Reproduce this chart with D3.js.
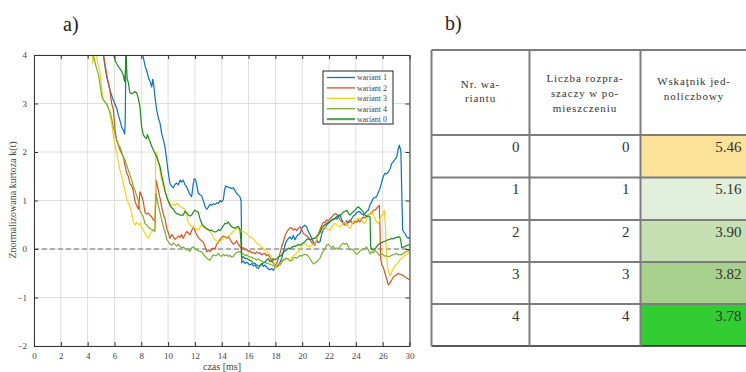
<!DOCTYPE html>
<html>
<head>
<meta charset="utf-8">
<script src="https://cdnjs.cloudflare.com/ajax/libs/d3/7.8.5/d3.min.js"></script>
<style>
  html, body { margin: 0; padding: 0; background: #fff; }
  svg { display: block; }
  svg text { font-family: "Liberation Serif", "Times New Roman", "DejaVu Serif", serif; }
</style>
</head>
<body>
<svg id="fig" width="746" height="372"></svg>
<script>
// ---- panel a): normalised kurtosis k(t) per variant, [t, k] samples ----
const wariant1 = [[5.15,4.05],[5.3,3.75],[5.45,3.52],[5.6,3.35],[5.75,3.2],[5.91,3.07],[6.05,2.98],[6.17,2.9],[6.3,2.75],[6.41,2.65],[6.55,2.5],[6.66,2.45],[6.76,2.37],[6.8,2.6],[6.83,3.3],[6.86,4.2],[7.4,4.6],[8.05,4.1],[8.15,3.95],[8.3,3.75],[8.4,3.68],[8.55,3.52],[8.65,3.46],[8.78,3.34],[8.85,3.5],[8.92,3.4],[9.02,3.13],[9.15,2.86],[9.28,2.7],[9.4,2.59],[9.52,2.38],[9.65,2.25],[9.77,2.1],[9.9,1.83],[10.0,1.6],[10.08,1.45],[10.14,1.35],[10.25,1.3],[10.39,1.26],[10.5,1.33],[10.64,1.36],[10.75,1.32],[10.89,1.42],[11.0,1.38],[11.13,1.42],[11.25,1.33],[11.39,1.28],[11.5,1.2],[11.63,1.12],[11.76,1.08],[11.85,1.3],[11.95,1.45],[12.05,1.43],[12.15,1.3],[12.25,1.15],[12.38,1.12],[12.5,1.1],[12.62,1.0],[12.75,0.88],[12.88,0.82],[13.0,0.86],[13.12,0.92],[13.25,0.9],[13.37,0.93],[13.5,0.92],[13.62,0.95],[13.75,0.94],[13.87,1.0],[14.0,0.97],[14.12,1.02],[14.2,1.2],[14.28,1.3],[14.4,1.28],[14.55,1.27],[14.7,1.25],[14.86,1.26],[15.0,1.2],[15.1,1.15],[15.24,1.11],[15.35,1.08],[15.44,1.0],[15.47,0.4],[15.49,-0.28],[15.6,-0.25],[15.75,-0.3],[15.86,-0.27],[15.98,-0.3],[16.1,-0.33],[16.25,-0.3],[16.35,-0.35],[16.48,-0.33],[16.6,-0.38],[16.73,-0.4],[16.85,-0.35],[16.98,-0.3],[17.1,-0.36],[17.23,-0.33],[17.35,-0.38],[17.47,-0.41],[17.6,-0.43],[17.72,-0.4],[17.85,-0.44],[17.97,-0.38],[18.1,-0.36],[18.22,-0.33],[18.35,-0.27],[18.47,-0.2],[18.6,-0.05],[18.72,0.08],[18.8,0.15],[18.97,0.22],[19.1,0.25],[19.22,0.2],[19.34,0.28],[19.46,0.19],[19.59,0.26],[19.72,0.3],[19.84,0.32],[19.96,0.42],[20.08,0.47],[20.2,0.49],[20.34,0.45],[20.46,0.36],[20.58,0.3],[20.71,0.22],[20.83,0.14],[20.95,0.12],[21.08,0.18],[21.2,0.13],[21.33,0.15],[21.45,0.3],[21.57,0.4],[21.7,0.43],[21.83,0.5],[21.95,0.53],[22.07,0.56],[22.2,0.6],[22.32,0.62],[22.45,0.63],[22.57,0.67],[22.7,0.7],[22.82,0.7],[22.95,0.6],[23.06,0.55],[23.2,0.53],[23.32,0.58],[23.44,0.55],[23.56,0.56],[23.7,0.63],[23.81,0.68],[23.94,0.7],[24.06,0.75],[24.18,0.77],[24.3,0.77],[24.44,0.72],[24.56,0.7],[24.68,0.73],[24.81,0.78],[24.93,0.8],[25.06,0.92],[25.18,0.97],[25.3,1.05],[25.43,1.06],[25.55,1.08],[25.68,1.17],[25.8,1.25],[25.93,1.38],[26.05,1.5],[26.17,1.56],[26.3,1.55],[26.42,1.59],[26.55,1.65],[26.67,1.76],[26.8,1.8],[26.92,1.85],[27.05,1.9],[27.15,2.05],[27.24,2.14],[27.3,2.08],[27.36,2.0],[27.42,1.2],[27.49,0.39],[27.58,0.35],[27.66,0.32],[27.79,0.25],[27.91,0.22],[28.0,0.25]];

const wariant2 = [[5.15,4.05],[5.3,3.8],[5.42,3.6],[5.55,3.42],[5.67,3.25],[5.79,3.0],[5.91,2.88],[6.0,2.6],[6.04,2.45],[6.17,2.24],[6.29,2.15],[6.41,2.04],[6.54,1.97],[6.66,1.9],[6.79,1.72],[6.91,1.56],[7.03,1.5],[7.16,1.35],[7.29,1.3],[7.4,1.21],[7.53,0.98],[7.65,0.9],[7.78,0.82],[7.85,1.0],[7.9,1.18],[8.03,1.1],[8.15,0.97],[8.28,0.75],[8.4,0.72],[8.52,0.74],[8.65,0.7],[8.78,0.66],[8.9,0.6],[9.02,0.58],[9.07,1.0],[9.1,1.42],[9.2,1.3],[9.27,1.21],[9.4,1.05],[9.52,0.87],[9.64,0.72],[9.77,0.62],[9.9,0.42],[10.0,0.35],[10.14,0.22],[10.27,0.3],[10.39,0.25],[10.52,0.2],[10.64,0.23],[10.76,0.27],[10.89,0.24],[11.0,0.3],[11.13,0.22],[11.26,0.3],[11.39,0.36],[11.5,0.33],[11.63,0.29],[11.76,0.38],[11.88,0.46],[12.0,0.38],[12.13,0.29],[12.25,0.24],[12.38,0.2],[12.5,0.16],[12.62,0.14],[12.75,0.05],[12.88,-0.06],[13.0,-0.02],[13.12,-0.05],[13.25,-0.02],[13.37,0.02],[13.5,0.0],[13.62,0.1],[13.75,0.14],[13.87,0.2],[14.0,0.24],[14.12,0.27],[14.24,0.25],[14.37,0.22],[14.49,0.26],[14.62,0.2],[14.74,0.14],[14.86,0.1],[15.0,0.12],[15.11,0.17],[15.24,0.1],[15.36,0.05],[15.49,0.0],[15.61,0.03],[15.73,-0.02],[15.86,-0.01],[15.98,-0.05],[16.1,-0.04],[16.23,-0.08],[16.35,-0.07],[16.48,-0.1],[16.6,-0.06],[16.73,-0.09],[16.85,-0.08],[16.98,-0.12],[17.1,-0.1],[17.23,-0.09],[17.35,-0.14],[17.47,-0.12],[17.6,-0.18],[17.72,-0.24],[17.85,-0.3],[17.97,-0.33],[18.1,-0.3],[18.22,-0.2],[18.35,-0.08],[18.47,0.05],[18.6,0.15],[18.72,0.28],[18.85,0.35],[18.97,0.4],[19.1,0.44],[19.22,0.43],[19.34,0.39],[19.46,0.42],[19.59,0.38],[19.72,0.43],[19.84,0.46],[19.96,0.4],[20.08,0.32],[20.2,0.3],[20.34,0.27],[20.46,0.24],[20.58,0.2],[20.71,0.13],[20.83,0.1],[20.95,0.08],[21.08,0.2],[21.2,0.3],[21.33,0.4],[21.45,0.48],[21.57,0.55],[21.7,0.55],[21.83,0.6],[21.95,0.58],[22.07,0.62],[22.2,0.66],[22.32,0.7],[22.45,0.73],[22.57,0.72],[22.7,0.66],[22.82,0.6],[22.95,0.56],[23.06,0.52],[23.2,0.49],[23.32,0.5],[23.44,0.56],[23.56,0.6],[23.7,0.55],[23.81,0.52],[23.94,0.57],[24.06,0.55],[24.18,0.6],[24.3,0.56],[24.44,0.62],[24.56,0.66],[24.68,0.64],[24.81,0.68],[24.93,0.7],[25.06,0.72],[25.18,0.74],[25.3,0.8],[25.43,0.8],[25.55,0.84],[25.68,0.88],[25.75,0.9],[25.8,0.4],[25.85,-0.2],[25.93,-0.33],[26.05,-0.38],[26.17,-0.5],[26.3,-0.62],[26.42,-0.74],[26.55,-0.7],[26.67,-0.64],[26.8,-0.58],[26.92,-0.55],[27.04,-0.53],[27.17,-0.5],[27.29,-0.52],[27.42,-0.53],[27.54,-0.55],[27.66,-0.57],[27.79,-0.6],[27.91,-0.62],[28.0,-0.64]];

const wariant3 = [[4.3,4.1],[4.38,3.82],[4.45,4.1],[4.6,4.05],[4.67,3.95],[4.8,3.78],[4.92,3.65],[5.05,3.3],[5.17,3.1],[5.29,3.03],[5.42,2.97],[5.54,2.93],[5.67,2.75],[5.79,2.59],[5.91,2.35],[6.04,2.15],[6.17,1.97],[6.29,1.8],[6.41,1.63],[6.54,1.5],[6.66,1.35],[6.79,1.2],[6.91,1.05],[7.03,0.95],[7.16,0.87],[7.29,0.72],[7.4,0.58],[7.53,0.49],[7.65,0.55],[7.78,0.5],[7.9,0.53],[8.03,0.45],[8.15,0.39],[8.28,0.32],[8.4,0.26],[8.52,0.22],[8.65,0.3],[8.78,0.36],[8.9,0.4],[9.02,0.43],[9.05,1.2],[9.08,2.0],[9.17,1.95],[9.27,1.8],[9.4,1.6],[9.52,1.42],[9.64,1.28],[9.77,1.18],[9.9,1.05],[10.0,1.0],[10.14,0.95],[10.27,0.9],[10.39,0.92],[10.52,0.9],[10.64,0.94],[10.76,0.92],[10.89,0.88],[11.0,0.84],[11.13,0.85],[11.26,0.8],[11.39,0.7],[11.5,0.55],[11.63,0.5],[11.76,0.46],[11.88,0.44],[12.0,0.43],[12.13,0.41],[12.25,0.39],[12.38,0.45],[12.5,0.49],[12.62,0.46],[12.75,0.43],[12.88,0.4],[13.0,0.38],[13.12,0.36],[13.25,0.3],[13.37,0.24],[13.5,0.19],[13.62,0.17],[13.75,0.16],[13.87,0.15],[14.0,0.19],[14.12,0.22],[14.24,0.24],[14.37,0.25],[14.49,0.27],[14.62,0.29],[14.74,0.33],[14.86,0.36],[14.99,0.4],[15.11,0.43],[15.24,0.41],[15.36,0.39],[15.49,0.37],[15.61,0.36],[15.73,0.34],[15.86,0.32],[15.98,0.28],[16.1,0.25],[16.23,0.23],[16.35,0.22],[16.48,0.16],[16.6,0.12],[16.73,0.1],[16.85,0.08],[16.98,0.04],[17.1,0.01],[17.23,-0.02],[17.35,-0.05],[17.47,-0.08],[17.6,-0.12],[17.72,-0.18],[17.85,-0.23],[17.97,-0.4],[18.1,-0.38],[18.22,-0.36],[18.35,-0.3],[18.47,-0.28],[18.6,-0.24],[18.72,-0.23],[18.85,-0.2],[18.97,-0.19],[19.1,-0.22],[19.22,-0.17],[19.34,-0.14],[19.46,-0.12],[19.59,-0.08],[19.72,-0.05],[19.84,-0.02],[19.96,0.06],[20.08,0.1],[20.2,0.12],[20.34,0.08],[20.46,0.05],[20.58,0.05],[20.71,0.08],[20.83,0.1],[20.95,0.12],[21.08,0.2],[21.2,0.28],[21.33,0.32],[21.45,0.4],[21.57,0.44],[21.7,0.46],[21.83,0.42],[21.95,0.4],[22.07,0.39],[22.2,0.45],[22.32,0.5],[22.45,0.53],[22.57,0.5],[22.7,0.47],[22.82,0.46],[22.95,0.5],[23.06,0.54],[23.2,0.56],[23.32,0.5],[23.44,0.45],[23.56,0.43],[23.7,0.5],[23.81,0.57],[23.94,0.6],[24.06,0.62],[24.18,0.63],[24.3,0.63],[24.44,0.58],[24.56,0.54],[24.68,0.53],[24.81,0.62],[24.93,0.7],[25.06,0.74],[25.18,0.77],[25.3,0.7],[25.43,0.63],[25.55,0.55],[25.68,0.53],[25.8,0.62],[25.93,0.7],[26.05,0.75],[26.12,0.8],[26.2,0.5],[26.3,-0.2],[26.42,-0.45],[26.55,-0.55],[26.67,-0.48],[26.8,-0.4],[26.92,-0.34],[27.04,-0.32],[27.17,-0.27],[27.29,-0.22],[27.42,-0.2],[27.54,-0.16],[27.66,-0.13],[27.79,-0.1],[27.91,-0.09],[28.0,-0.06]];

const wariant4 = [[4.4,4.05],[4.55,3.85],[4.67,3.72],[4.8,3.6],[4.92,3.4],[5.05,3.15],[5.17,3.07],[5.29,3.03],[5.42,3.0],[5.54,2.9],[5.67,2.83],[5.79,2.7],[5.91,2.52],[6.04,2.38],[6.17,2.24],[6.29,2.15],[6.41,2.1],[6.54,2.0],[6.66,1.9],[6.79,1.83],[6.91,1.72],[7.03,1.63],[7.16,1.52],[7.29,1.42],[7.4,1.3],[7.53,1.21],[7.65,1.1],[7.78,1.0],[7.9,0.8],[8.03,0.72],[8.15,0.66],[8.28,0.52],[8.4,0.5],[8.52,0.45],[8.65,0.43],[8.78,0.4],[8.9,0.38],[9.02,0.36],[9.06,0.8],[9.1,1.15],[9.17,1.05],[9.27,0.9],[9.4,0.75],[9.52,0.6],[9.64,0.46],[9.77,0.35],[9.9,0.2],[10.0,0.16],[10.14,0.1],[10.27,0.08],[10.39,0.12],[10.52,0.1],[10.64,0.06],[10.76,0.1],[10.89,0.05],[11.0,0.03],[11.13,0.04],[11.26,0.01],[11.39,-0.02],[11.5,-0.01],[11.63,-0.05],[11.76,0.02],[11.88,0.05],[12.0,0.0],[12.13,-0.02],[12.25,-0.03],[12.38,-0.05],[12.5,-0.06],[12.62,-0.1],[12.75,-0.15],[12.88,-0.19],[13.0,-0.21],[13.12,-0.23],[13.25,-0.17],[13.37,-0.12],[13.5,-0.14],[13.62,-0.13],[13.75,-0.09],[13.87,-0.14],[14.0,-0.15],[14.12,-0.11],[14.24,-0.14],[14.37,-0.12],[14.49,-0.15],[14.62,-0.13],[14.74,-0.17],[14.86,-0.16],[14.99,-0.1],[15.11,-0.07],[15.24,-0.06],[15.36,-0.05],[15.49,-0.09],[15.61,-0.1],[15.73,-0.13],[15.86,-0.12],[15.98,-0.15],[16.1,-0.17],[16.23,-0.16],[16.35,-0.19],[16.48,-0.2],[16.6,-0.22],[16.73,-0.21],[16.85,-0.23],[16.98,-0.25],[17.1,-0.27],[17.23,-0.28],[17.35,-0.29],[17.47,-0.3],[17.6,-0.32],[17.72,-0.33],[17.85,-0.34],[17.97,-0.36],[18.1,-0.36],[18.22,-0.34],[18.35,-0.33],[18.47,-0.26],[18.6,-0.22],[18.72,-0.2],[18.85,-0.19],[18.97,-0.22],[19.1,-0.25],[19.22,-0.24],[19.34,-0.18],[19.46,-0.17],[19.59,-0.19],[19.72,-0.16],[19.84,-0.13],[19.96,-0.15],[20.08,-0.12],[20.2,-0.11],[20.34,-0.12],[20.46,-0.15],[20.58,-0.2],[20.71,-0.26],[20.83,-0.31],[20.95,-0.29],[21.08,-0.27],[21.2,-0.23],[21.33,-0.19],[21.45,-0.1],[21.57,-0.05],[21.7,0.01],[21.83,0.08],[21.95,0.1],[22.07,0.06],[22.2,0.03],[22.32,0.06],[22.45,0.0],[22.57,0.02],[22.7,0.01],[22.82,0.05],[22.95,0.09],[23.06,0.12],[23.2,0.1],[23.32,0.12],[23.44,0.05],[23.56,-0.02],[23.7,0.0],[23.81,-0.02],[23.94,-0.07],[24.06,-0.11],[24.18,-0.08],[24.3,-0.04],[24.44,-0.02],[24.56,0.0],[24.68,0.01],[24.81,0.04],[24.93,-0.02],[25.06,-0.1],[25.18,-0.05],[25.3,-0.08],[25.43,-0.03],[25.55,-0.06],[25.68,-0.1],[25.8,-0.14],[25.93,-0.1],[26.05,-0.12],[26.17,-0.15],[26.3,-0.14],[26.42,-0.16],[26.55,-0.15],[26.67,-0.13],[26.79,-0.12],[26.92,-0.1],[27.04,-0.09],[27.17,-0.12],[27.29,-0.11],[27.42,-0.12],[27.54,-0.09],[27.66,-0.07],[27.79,-0.05],[27.91,-0.04],[28.0,-0.02]];

const wariant0 = [[5.9,4.05],[6.05,3.88],[6.17,3.82],[6.29,3.76],[6.41,3.72],[6.54,3.66],[6.66,3.58],[6.76,3.45],[6.82,3.7],[6.86,4.2],[6.9,3.8],[6.95,3.5],[7.03,3.44],[7.1,3.3],[7.16,3.22],[7.29,3.2],[7.4,3.22],[7.53,3.24],[7.66,3.22],[7.78,3.1],[7.9,2.93],[7.97,2.7],[8.03,2.52],[8.15,2.35],[8.28,2.3],[8.4,2.28],[8.45,2.36],[8.52,2.31],[8.6,2.24],[8.65,2.21],[8.78,2.12],[8.9,2.04],[9.02,1.97],[9.15,1.9],[9.27,1.8],[9.4,1.7],[9.52,1.52],[9.64,1.38],[9.77,1.2],[9.9,1.08],[10.0,1.0],[10.14,0.9],[10.27,0.85],[10.39,0.82],[10.52,0.76],[10.64,0.73],[10.76,0.72],[10.89,0.7],[11.0,0.7],[11.13,0.7],[11.26,0.78],[11.39,0.75],[11.5,0.7],[11.63,0.68],[11.76,0.7],[11.88,0.76],[12.0,0.8],[12.13,0.78],[12.25,0.76],[12.38,0.62],[12.5,0.53],[12.62,0.48],[12.75,0.45],[12.88,0.42],[13.0,0.4],[13.12,0.38],[13.25,0.39],[13.37,0.36],[13.5,0.35],[13.62,0.36],[13.75,0.4],[13.87,0.38],[14.0,0.43],[14.12,0.48],[14.24,0.53],[14.37,0.52],[14.49,0.56],[14.62,0.5],[14.74,0.46],[14.86,0.44],[14.99,0.43],[15.11,0.45],[15.24,0.47],[15.36,0.4],[15.42,0.2],[15.47,-0.15],[15.55,-0.18],[15.61,-0.16],[15.73,-0.2],[15.86,-0.19],[15.98,-0.22],[16.1,-0.23],[16.23,-0.25],[16.35,-0.29],[16.48,-0.3],[16.6,-0.33],[16.73,-0.35],[16.85,-0.34],[16.98,-0.31],[17.1,-0.29],[17.23,-0.27],[17.35,-0.22],[17.47,-0.2],[17.6,-0.26],[17.72,-0.25],[17.85,-0.2],[17.97,-0.22],[18.1,-0.2],[18.22,-0.16],[18.35,-0.15],[18.47,-0.12],[18.6,-0.07],[18.72,-0.04],[18.85,-0.02],[18.97,0.02],[19.1,0.0],[19.22,0.04],[19.34,0.05],[19.46,0.06],[19.59,0.07],[19.72,0.09],[19.84,0.08],[19.96,0.1],[20.08,0.13],[20.2,0.15],[20.34,0.2],[20.46,0.21],[20.58,0.19],[20.71,0.2],[20.83,0.22],[20.95,0.22],[21.08,0.26],[21.2,0.3],[21.33,0.34],[21.45,0.43],[21.57,0.47],[21.7,0.5],[21.83,0.53],[21.95,0.55],[22.07,0.56],[22.2,0.6],[22.32,0.6],[22.45,0.63],[22.57,0.62],[22.7,0.66],[22.82,0.7],[22.95,0.72],[23.06,0.76],[23.2,0.78],[23.32,0.8],[23.44,0.74],[23.56,0.7],[23.7,0.74],[23.81,0.77],[23.94,0.8],[24.06,0.84],[24.18,0.87],[24.3,0.84],[24.44,0.8],[24.56,0.76],[24.68,0.7],[24.81,0.67],[24.93,0.68],[25.06,0.66],[25.1,0.05],[25.18,0.0],[25.3,-0.02],[25.43,0.0],[25.55,0.05],[25.68,0.09],[25.8,0.12],[25.93,0.13],[26.05,0.15],[26.17,0.16],[26.3,0.18],[26.42,0.19],[26.55,0.2],[26.67,0.22],[26.79,0.21],[26.92,0.23],[27.04,0.24],[27.17,0.25],[27.29,0.24],[27.36,0.15],[27.42,0.03],[27.54,0.04],[27.66,0.05],[27.79,0.07],[27.91,0.08],[28.0,0.1]];

const seriesNames  = ["wariant 1", "wariant 2", "wariant 3", "wariant 4", "wariant 0"];
const seriesData   = [wariant1, wariant2, wariant3, wariant4, wariant0];
const seriesColors = ["#0a72c0", "#d9531e", "#f5d21a", "#78b030", "#1c8c1c"];

// axis ticks; the last grid position carries the label "30"
const xTickValues = [0, 2, 4, 6, 8, 10, 12, 14, 16, 18, 20, 22, 24, 26, 28];
const xTickLabels = ["0", "2", "4", "6", "8", "10", "12", "14", "16", "18", "20", "22", "24", "26", "30"];
const yTickValues = [-2, -1, 0, 1, 2, 3, 4];

// ---- panel b): table ----
const tableHeaders = [
  ["Nr. wa-", "riantu"],
  ["Liczba rozpra-", "szaczy w po-", "mieszczeniu"],
  ["Wskaţnik jed-", "noliczbowy"]
];
const tableVariant    = [0, 1, 2, 3, 4];
const tableScatterers = [0, 1, 2, 3, 4];
const tableIndex      = ["5.46", "5.16", "3.90", "3.82", "3.78"];
const tableFill       = ["#fde29a", "#e2efda", "#c6e0b4", "#a9d18e", "#33cc33"];

const svg = d3.select("#fig");
const serif = "Liberation Serif, Times New Roman, DejaVu Serif, serif";

// ================= panel a =================
const plot = { left: 34, right: 409.5, top: 55, bottom: 346 };
const x = d3.scaleLinear().domain([0, 28]).range([plot.left, plot.right]);
const y = d3.scaleLinear().domain([-2, 4]).range([plot.bottom, plot.top]);

svg.append("text").attr("x", 63).attr("y", 31)
  .style("font-family", serif).attr("font-size", 20).attr("fill", "#222").text("a)");

const gA = svg.append("g");

// grid
gA.append("g").selectAll("line").data(xTickValues).join("line")
  .attr("x1", d => x(d)).attr("x2", d => x(d))
  .attr("y1", plot.top).attr("y2", plot.bottom)
  .attr("stroke", "#dedede").attr("stroke-width", 1);
gA.append("g").selectAll("line").data(yTickValues).join("line")
  .attr("x1", plot.left).attr("x2", plot.right)
  .attr("y1", d => y(d)).attr("y2", d => y(d))
  .attr("stroke", "#dedede").attr("stroke-width", 1);

// zero reference
gA.append("line")
  .attr("x1", plot.left).attr("x2", plot.right)
  .attr("y1", y(0)).attr("y2", y(0))
  .attr("stroke", "#9a9a9a").attr("stroke-width", 1.4)
  .attr("stroke-dasharray", "5,3");

// clip for the series
svg.append("defs").append("clipPath").attr("id", "plotClip")
  .append("rect").attr("x", plot.left).attr("y", plot.top)
  .attr("width", plot.right - plot.left).attr("height", plot.bottom - plot.top);

const line = d3.line().x(d => x(d[0])).y(d => y(d[1]));
gA.append("g").attr("clip-path", "url(#plotClip)")
  .selectAll("path").data(seriesData).join("path")
  .attr("d", line)
  .attr("fill", "none")
  .attr("stroke", (d, i) => seriesColors[i])
  .attr("stroke-width", 1.2)
  .attr("stroke-linejoin", "round");

// axes (ticks pointing inward, box on all sides)
const axisColor = "#333";
const xAxisB = d3.axisBottom(x).tickValues(xTickValues)
  .tickFormat((d, i) => xTickLabels[i]).tickSizeInner(-4).tickSizeOuter(0).tickPadding(7);
const xAxisT = d3.axisTop(x).tickValues(xTickValues).tickFormat("").tickSizeInner(-4).tickSizeOuter(0);
const yAxisL = d3.axisLeft(y).tickValues(yTickValues).tickFormat(d3.format("d"))
  .tickSizeInner(-4).tickSizeOuter(0).tickPadding(7);
const yAxisR = d3.axisRight(y).tickValues(yTickValues).tickFormat("").tickSizeInner(-4).tickSizeOuter(0);

function styleAxis(g) {
  g.attr("font-family", null);
  g.select(".domain").attr("stroke", axisColor).attr("stroke-width", 1);
  g.selectAll(".tick line").attr("stroke", axisColor);
  g.selectAll(".tick text").style("font-family", serif).attr("font-size", 9).attr("fill", "#444");
}
gA.append("g").attr("transform", `translate(0,${plot.bottom})`).call(xAxisB).call(styleAxis);
gA.append("g").attr("transform", `translate(0,${plot.top})`).call(xAxisT).call(styleAxis);
gA.append("g").attr("transform", `translate(${plot.left},0)`).call(yAxisL).call(styleAxis);
gA.append("g").attr("transform", `translate(${plot.right},0)`).call(yAxisR).call(styleAxis);

// axis titles
gA.append("text").attr("x", 222).attr("y", 370)
  .attr("text-anchor", "middle").style("font-family", serif).attr("font-size", 10)
  .attr("fill", "#444").text("czas [ms]");
gA.append("text").attr("transform", `translate(16,200) rotate(-90)`)
  .attr("text-anchor", "middle").style("font-family", serif).attr("font-size", 10)
  .attr("fill", "#444").text("Znormalizowana kurtoza k(t)");

// legend
const leg = gA.append("g").attr("transform", "translate(323,71)");
leg.append("rect").attr("width", 70).attr("height", 53)
  .attr("fill", "#fff").attr("stroke", "#222").attr("stroke-width", 1);
const rows = leg.selectAll("g.row").data(seriesNames).join("g")
  .attr("class", "row").attr("transform", (d, i) => `translate(0,${6.5 + i * 10.4})`);
rows.append("line").attr("x1", 4).attr("x2", 32)
  .attr("stroke", (d, i) => seriesColors[i])
  .attr("stroke-width", (d, i) => i === 4 ? 2.2 : 1.3)
  .attr("stroke-opacity", (d, i) => i === 4 ? 0.75 : 1);
rows.append("text").attr("x", 34).attr("y", 2.8)
  .style("font-family", serif).attr("font-size", 8).attr("fill", "#444").text(d => d);

// ================= panel b =================
svg.append("text").attr("x", 445).attr("y", 30)
  .style("font-family", serif).attr("font-size", 20).attr("fill", "#222").text("b)");

const colEdges = [431.5, 529.5, 640.5, 752];
const rowEdges = [50, 135, 177.5, 220, 262, 304, 346];
const gB = svg.append("g");

// value cell fills
gB.selectAll("rect.fill").data(tableFill).join("rect")
  .attr("class", "fill")
  .attr("x", colEdges[2]).attr("y", (d, i) => rowEdges[i + 1])
  .attr("width", colEdges[3] - colEdges[2])
  .attr("height", (d, i) => rowEdges[i + 2] - rowEdges[i + 1])
  .attr("fill", d => d);

// header lines
const headerBaselines = [[88, 102], [81.5, 96.5, 111.5], [84.5, 100]];
tableHeaders.forEach((lines, c) => {
  const cx = c < 2 ? (colEdges[c] + colEdges[c + 1]) / 2 : 694;
  gB.selectAll(null).data(lines).join("text")
    .attr("x", cx).attr("y", (d, i) => headerBaselines[c][i])
    .attr("text-anchor", "middle").style("font-family", serif)
    .attr("font-size", 11).attr("letter-spacing", "0.9px").attr("fill", "#333")
    .text(d => d);
});

// body values (right aligned, top of the cell)
const bodyCols = [tableVariant, tableScatterers, tableIndex];
const rightPad = [10, 11, 10.5];
bodyCols.forEach((col, c) => {
  gB.selectAll(null).data(col).join("text")
    .attr("x", colEdges[c + 1] - rightPad[c])
    .attr("y", (d, i) => rowEdges[i + 1] + 16.5)
    .attr("text-anchor", "end").style("font-family", serif)
    .attr("font-size", 15).attr("fill", "#333")
    .text(d => d);
});

// borders
const borderColor = "#7d7d7d";
gB.selectAll("line.h").data(rowEdges.slice(0, -1)).join("line")
  .attr("class", "h").attr("x1", colEdges[0]).attr("x2", colEdges[3])
  .attr("y1", d => d).attr("y2", d => d)
  .attr("stroke", borderColor).attr("stroke-width", 2);
gB.append("line").attr("x1", colEdges[0]).attr("x2", colEdges[3])
  .attr("y1", rowEdges[6]).attr("y2", rowEdges[6])
  .attr("stroke", "#222").attr("stroke-width", 1.6);
gB.selectAll("line.v").data(colEdges.slice(0, 3)).join("line")
  .attr("class", "v").attr("x1", d => d).attr("x2", d => d)
  .attr("y1", rowEdges[0]).attr("y2", rowEdges[6])
  .attr("stroke", borderColor).attr("stroke-width", 2);
</script>
</body>
</html>
